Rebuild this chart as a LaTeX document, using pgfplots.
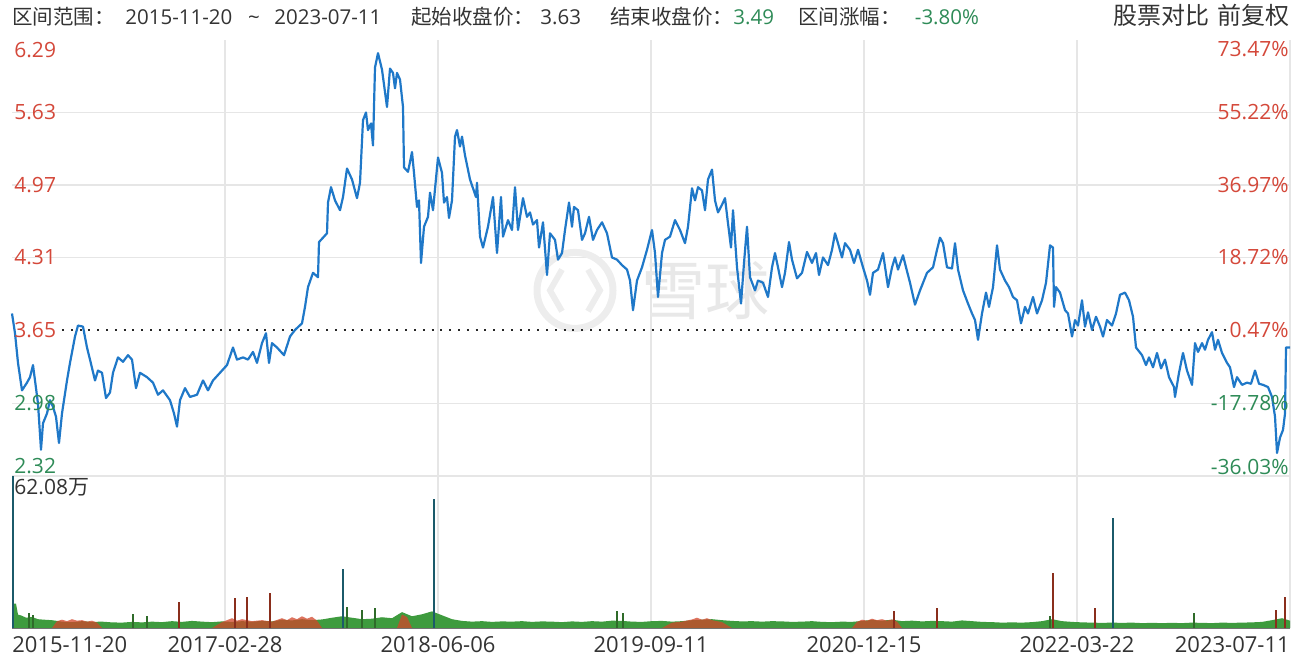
\documentclass[border=0pt]{standalone}
\usepackage{pgfplots}
\pgfplotsset{compat=1.18}
\usepackage{fontspec}
\setmainfont{Open Sans}
\newfontfamily\cjk{Noto Sans CJK SC}

\definecolor{upred}{HTML}{D4483A}
\definecolor{dngreen}{HTML}{2E8B57}
\definecolor{txtgray}{HTML}{333333}
\definecolor{priceblue}{HTML}{1F78C8}
\definecolor{volgreen}{HTML}{3E9B3E}
\definecolor{volred}{HTML}{D2452A}
\definecolor{spteal}{HTML}{1B5A6A}
\definecolor{spred}{HTML}{8A2E1C}
\definecolor{spgreen}{HTML}{2F6B2A}
\definecolor{gridc}{HTML}{E6E6E6}

\newcommand{\fs}[1]{\fontsize{#1}{#1}\selectfont}

\begin{document}
\begin{tikzpicture}
\useasboundingbox (0,0) rectangle (652pt,333pt);

% price panel
\begin{axis}[at={(6pt,95pt)}, anchor=south west, scale only axis,
  width=639pt, height=218pt,
  xmin=0, xmax=1278, ymin=2.32, ymax=6.29,
  xtick={213,426,639,852,1065}, ytick={2.98,4.31,4.97,5.63},
  xticklabels={}, yticklabels={}, major tick length=0pt,
  grid=major, grid style={gridc, line width=0.6pt},
  axis line style={draw=none}, clip=false]

% watermark
\draw[gray!14, line width=3.5pt] (axis cs:563,4.01) circle[radius=19pt];
\draw[gray!14, line width=3pt] (axis cs:550,4.20) -- (axis cs:538,4.01) -- (axis cs:550,3.82);
\draw[gray!14, line width=3pt] (axis cs:576,4.20) -- (axis cs:588,4.01) -- (axis cs:576,3.82);
\node[text=gray!18, font=\cjk\fs{32pt}] at (axis cs:693,4.01) {雪球};

\draw[gridc, line width=0.6pt] (axis cs:1278,2.32) -- (axis cs:1278,6.29);
\draw[black!85, line width=1.1pt, dash pattern=on 1pt off 3.4pt] (axis cs:50,3.65) -- (axis cs:1215,3.65);

\addplot[priceblue, line width=1.1pt, line join=round, mark=none] coordinates {
(0,3.80) (3,3.62) (6,3.35) (10,3.10) (15,3.17) (18,3.22) (21,3.33) (23,3.19)
(26,2.98) (29,2.56) (31,2.80) (35,2.89) (38,3.01) (41,2.95) (44,2.86) (47,2.62)
(50,2.89) (55,3.19) (58,3.35) (63,3.59) (66,3.69) (71,3.68) (75,3.49) (78,3.38)
(83,3.19) (86,3.28) (90,3.26) (94,3.03) (98,3.08) (101,3.26) (106,3.40) (111,3.36)
(116,3.42) (120,3.38) (124,3.12) (128,3.26) (135,3.22) (141,3.17) (146,3.06) (151,3.10)
(158,3.01) (162,2.89) (165,2.77) (168,3.01) (173,3.12) (178,3.04) (185,3.06) (191,3.19)
(196,3.10) (201,3.19) (208,3.26) (215,3.33) (221,3.49) (225,3.38) (231,3.40) (236,3.38)
(241,3.45) (245,3.35) (250,3.53) (254,3.62) (257,3.35) (260,3.53) (265,3.49) (272,3.42)
(278,3.59) (283,3.65) (290,3.71) (293,3.86) (296,4.04) (301,4.17) (306,4.13) (307,4.45)
(315,4.53) (316,4.81) (319,4.95) (323,4.83) (328,4.74) (331,4.86) (335,5.12) (340,5.02)
(345,4.85) (348,4.99) (351,5.56) (354,5.63) (356,5.47) (359,5.53) (361,5.33) (363,6.04)
(366,6.17) (370,6.02) (375,5.68) (378,6.03) (381,5.99) (383,5.85) (385,5.99) (388,5.93)
(391,5.68) (392,5.13) (396,5.09) (400,5.27) (402,5.08) (405,4.77) (407,4.83) (409,4.26)
(412,4.59) (416,4.68) (418,4.90) (421,4.74) (426,5.22) (430,5.08) (432,4.81) (435,4.86)
(437,4.67) (440,4.83) (443,5.41) (445,5.47) (448,5.32) (450,5.41) (453,5.24) (458,5.02)
(464,4.86) (465,4.99) (468,4.50) (471,4.40) (476,4.59) (481,4.86) (485,4.35) (489,4.86)
(491,4.50) (496,4.65) (500,4.56) (503,4.95) (506,4.56) (511,4.85) (515,4.68) (518,4.72)
(521,4.61) (525,4.65) (527,4.40) (531,4.63) (535,4.15) (538,4.53) (543,4.47) (546,4.29)
(550,4.35) (553,4.56) (557,4.81) (560,4.59) (562,4.77) (566,4.74) (570,4.47) (573,4.53)
(577,4.68) (581,4.47) (585,4.56) (590,4.63) (595,4.53) (600,4.31) (605,4.29) (610,4.24)
(615,4.20) (618,4.10) (621,3.83) (625,4.10) (630,4.22) (635,4.38) (640,4.56) (643,4.35)
(646,3.95) (650,4.35) (653,4.47) (658,4.50) (663,4.65) (668,4.56) (673,4.44) (676,4.59)
(680,4.94) (683,4.83) (686,4.95) (690,4.92) (693,4.74) (696,5.02) (700,5.11) (703,4.83)
(706,4.72) (710,4.79) (713,4.85) (716,4.62) (719,4.40) (721,4.74) (725,4.22) (729,3.89)
(732,4.26) (735,4.59) (738,4.13) (743,4.01) (746,4.10) (751,4.08) (756,3.95) (760,4.22)
(763,4.35) (766,4.22) (770,4.04) (773,4.17) (777,4.45) (780,4.29) (785,4.12) (790,4.17)
(795,4.36) (800,4.26) (804,4.35) (807,4.15) (811,4.31) (816,4.24) (820,4.38) (823,4.53)
(825,4.47) (830,4.31) (833,4.44) (838,4.38) (842,4.26) (846,4.38) (851,4.22) (855,4.10)
(858,3.97) (861,4.17) (866,4.20) (871,4.35) (876,4.04) (880,4.22) (883,4.31) (886,4.20)
(891,4.33) (894,4.22) (898,4.08) (903,3.88) (908,4.01) (915,4.17) (921,4.22) (925,4.38)
(928,4.49) (931,4.44) (935,4.22) (940,4.21) (943,4.44) (946,4.20) (951,4.01) (956,3.89)
(960,3.80) (963,3.74) (966,3.56) (970,3.80) (974,3.99) (977,3.86) (981,4.04) (985,4.42)
(988,4.20) (993,4.10) (997,4.04) (1001,3.95) (1005,3.92) (1009,3.71) (1013,3.86) (1016,3.80)
(1021,3.95) (1025,3.80) (1030,3.92) (1034,4.08) (1038,4.42) (1041,4.40) (1042,3.86) (1044,4.04)
(1048,3.99) (1053,3.83) (1056,3.80) (1060,3.59) (1063,3.74) (1066,3.69) (1070,3.92) (1073,3.68)
(1076,3.81) (1080,3.65) (1084,3.77) (1088,3.68) (1091,3.59) (1095,3.74) (1100,3.69) (1104,3.80)
(1108,3.97) (1113,3.99) (1117,3.92) (1121,3.77) (1124,3.49) (1130,3.42) (1134,3.33) (1137,3.40)
(1141,3.31) (1145,3.44) (1149,3.30) (1153,3.38) (1157,3.22) (1162,3.13) (1163,3.04) (1167,3.26)
(1171,3.44) (1175,3.28) (1180,3.15) (1183,3.53) (1186,3.45) (1190,3.53) (1193,3.47) (1196,3.56)
(1200,3.63) (1203,3.47) (1206,3.56) (1210,3.44) (1215,3.35) (1218,3.31) (1222,3.13) (1225,3.22)
(1230,3.15) (1235,3.17) (1239,3.16) (1243,3.28) (1247,3.16) (1251,3.15) (1256,3.13) (1260,3.04)
(1263,2.86) (1265,2.53) (1268,2.67) (1271,2.74) (1273,2.89) (1274,3.49) (1278,3.49)
};

% price labels, left and right
\node[anchor=north west, inner sep=1pt, text=upred, font=\fs{10.5pt}] at (axis cs:0,6.29) {6.29};
\node[anchor=west, inner sep=1pt, text=upred, font=\fs{10.5pt}] at (axis cs:0,5.63) {5.63};
\node[anchor=west, inner sep=1pt, text=upred, font=\fs{10.5pt}] at (axis cs:0,4.97) {4.97};
\node[anchor=west, inner sep=1pt, text=upred, font=\fs{10.5pt}] at (axis cs:0,4.31) {4.31};
\node[anchor=west, inner sep=1pt, text=upred, font=\fs{10.5pt}] at (axis cs:0,3.65) {3.65};
\node[anchor=west, inner sep=1pt, text=dngreen, font=\fs{10.5pt}] at (axis cs:0,2.98) {2.98};
\node[anchor=south west, inner sep=1pt, text=dngreen, font=\fs{10.5pt}] at (axis cs:0,2.32) {2.32};
\node[anchor=north east, inner sep=0.5pt, text=upred, font=\fs{10.5pt}] at (axis cs:1278,6.29) {73.47\%};
\node[anchor=east, inner sep=0.5pt, text=upred, font=\fs{10.5pt}] at (axis cs:1278,5.63) {55.22\%};
\node[anchor=east, inner sep=0.5pt, text=upred, font=\fs{10.5pt}] at (axis cs:1278,4.97) {36.97\%};
\node[anchor=east, inner sep=0.5pt, text=upred, font=\fs{10.5pt}] at (axis cs:1278,4.31) {18.72\%};
\node[anchor=east, inner sep=0.5pt, text=upred, font=\fs{10.5pt}] at (axis cs:1278,3.65) {0.47\%};
\node[anchor=east, inner sep=0.5pt, text=dngreen, font=\fs{10.5pt}] at (axis cs:1278,2.98) {-17.78\%};
\node[anchor=south east, inner sep=0.5pt, text=dngreen, font=\fs{10.5pt}] at (axis cs:1278,2.32) {-36.03\%};
\end{axis}

% volume panel
\begin{axis}[at={(6pt,19pt)}, anchor=south west, scale only axis,
  width=639pt, height=76pt,
  xmin=0, xmax=1278, ymin=0, ymax=62.08,
  xtick={213,426,639,852,1065}, ytick=\empty,
  xticklabels={}, major tick length=0pt,
  xmajorgrids, grid style={gridc, line width=0.6pt},
  axis line style={draw=none}, clip=false]

\draw[gridc, line width=0.6pt] (axis cs:0,62.08) -- (axis cs:1278,62.08);
\draw[gridc, line width=0.6pt] (axis cs:1278,0) -- (axis cs:1278,62.08);

\addplot[draw=none, fill=volgreen] coordinates {
(0,10) (4,10) (6,5.5) (10,5) (14,4.2) (20,4.5) (26,3.6) (32,3.4) (40,3.2) (50,2.6)
(60,2.4) (70,2.8) (80,2.5) (90,2.6) (100,2.3) (110,2.2) (120,2.5) (130,2.3) (140,2.6) (150,2.4)
(160,2.8) (170,2.5) (180,2.9) (190,2.6) (200,2.4) (210,2.7) (220,2.5) (230,2.8) (240,2.6) (250,2.9)
(260,2.7) (270,3.4) (280,3.1) (290,3.6) (300,3.2) (310,3.5) (320,4.2) (330,4.8) (340,4.2) (350,3.6)
(360,3.8) (370,4.4) (380,4.0) (390,6.5) (400,4.8) (410,5.6) (420,6.8) (430,5.2) (440,3.6) (450,2.9)
(460,2.6) (470,2.8) (480,2.5) (490,2.7) (500,2.6) (510,2.8) (520,2.5) (530,2.7) (540,2.6) (550,2.4)
(560,2.7) (570,2.5) (580,2.8) (590,2.6) (600,3.0) (610,2.9) (620,2.6) (630,2.5) (640,2.8) (650,2.9)
(660,2.6) (670,2.8) (680,3.2) (690,3.4) (700,3.6) (710,3.2) (720,2.9) (730,2.7) (740,2.8) (750,2.6)
(760,2.8) (770,2.7) (780,2.5) (790,2.6) (800,2.8) (810,2.5) (820,2.4) (830,2.6) (840,2.5) (850,2.9)
(860,3.3) (870,3.0) (880,3.4) (890,2.8) (900,3.0) (910,2.7) (920,2.9) (930,2.8) (940,2.6) (950,3.1)
(960,2.8) (970,2.5) (980,2.4) (990,2.2) (1000,2.3) (1010,2.2) (1020,2.4) (1030,2.8) (1040,3.6) (1050,2.8)
(1060,2.5) (1070,2.3) (1080,2.2) (1090,2.1) (1100,2.2) (1110,2.1) (1120,2.2) (1130,2.0) (1140,2.1) (1150,2.0)
(1160,2.1) (1170,2.0) (1180,2.2) (1190,2.1) (1200,2.0) (1210,2.2) (1220,2.1) (1230,2.2) (1240,2.3) (1250,2.5)
(1260,3.2) (1270,4.0) (1278,3.0)
} \closedcycle;

\addplot[draw=none, fill=volred, fill opacity=0.75] coordinates {
(0,0) (40,0) (45,2.8) (50,3.4) (55,2.8) (60,3.6) (65,3.0) (70,3.2) (75,2.6) (80,3.0)
(85,2.2) (90,0) (200,0) (210,2.4) (215,3.2) (220,4.0) (225,3.0) (230,3.6) (240,2.8) (250,3.2)
(260,2.6) (270,4.0) (275,3.2) (280,4.4) (285,3.6) (290,4.8) (295,3.8) (300,4.6) (305,3.0) (310,0)
(385,0) (390,5.5) (395,4.5) (400,0) (650,0) (660,2.2) (670,2.6) (680,3.5) (685,4.2) (690,3.4)
(695,4.0) (700,3.2) (710,2.4) (720,0) (840,0) (845,2.5) (850,3.4) (855,3.0) (860,3.8) (865,3.2)
(870,3.6) (875,3.0) (880,3.5) (885,2.6) (890,0) (1278,0)
} \closedcycle;

\addplot[ycomb, spteal, line width=1pt, mark=none] coordinates {
(0.5,62.08) (331,24.1) (422,52.7) (1101,45.0)
};
\addplot[ycomb, spred, line width=0.9pt, mark=none] coordinates {
(167,10.6) (223,12.2) (235,12.7) (258,14.3) (882,7.0) (925,8.2) (1041,22.5) (1083,8.0) (1264,7.3) (1273,12.7)
};
\addplot[ycomb, spgreen, line width=0.8pt, mark=none] coordinates {
(17,6.0) (21,5.5) (121,5.7) (135,4.9) (335,8.6) (350,7.3) (363,8.0) (605,7.0) (611,6.0) (1038,5.0) (1182,6.0)
};

\draw[black!55, line width=0.5pt] (axis cs:0,0) -- (axis cs:1278,0);

\node[anchor=north west, inner sep=1pt, text=txtgray, font=\fs{10.5pt}] at (axis cs:0,62.08) {62.08{\cjk 万}};

\node[anchor=base west, inner sep=0pt, text=txtgray, font=\fs{11pt}] at ([yshift=-12pt]axis cs:0,0) {2015-11-20};
\node[anchor=base, inner sep=0pt, text=txtgray, font=\fs{11pt}] at ([yshift=-12pt]axis cs:213,0) {2017-02-28};
\node[anchor=base, inner sep=0pt, text=txtgray, font=\fs{11pt}] at ([yshift=-12pt]axis cs:426,0) {2018-06-06};
\node[anchor=base, inner sep=0pt, text=txtgray, font=\fs{11pt}] at ([yshift=-12pt]axis cs:639,0) {2019-09-11};
\node[anchor=base, inner sep=0pt, text=txtgray, font=\fs{11pt}] at ([yshift=-12pt]axis cs:852,0) {2020-12-15};
\node[anchor=base, inner sep=0pt, text=txtgray, font=\fs{11pt}] at ([yshift=-12pt]axis cs:1065,0) {2022-03-22};
\node[anchor=base east, inner sep=0pt, text=txtgray, font=\fs{11pt}] at ([yshift=-12pt]axis cs:1278,0) {2023-07-11};
\end{axis}

% header line
\node[anchor=base west, inner sep=0pt, text=txtgray, font=\fs{10.25pt}] at (6pt,320.5pt) {{\cjk 区间范围：}};
\node[anchor=base west, inner sep=0pt, text=txtgray, font=\fs{10.25pt}] at (62.5pt,320.5pt) {2015-11-20};
\node[anchor=base, inner sep=0pt, text=txtgray, font=\fs{10.25pt}] at (127pt,320.5pt) {\textasciitilde};
\node[anchor=base west, inner sep=0pt, text=txtgray, font=\fs{10.25pt}] at (137pt,320.5pt) {2023-07-11};
\node[anchor=base west, inner sep=0pt, text=txtgray, font=\fs{10.25pt}] at (205.5pt,320.5pt) {{\cjk 起始收盘价：}\hspace{3pt}3.63};
\node[anchor=base west, inner sep=0pt, text=txtgray, font=\fs{10.25pt}] at (305pt,320.5pt) {{\cjk 结束收盘价：}{\color{dngreen}3.49}};
\node[anchor=base west, inner sep=0pt, text=txtgray, font=\fs{10.25pt}] at (399pt,320.5pt) {{\cjk 区间涨幅：}\hspace{7pt}{\color{dngreen}-3.80\%}};
\node[anchor=base east, inner sep=0pt, text=txtgray, font=\fs{12pt}] at (645pt,320.5pt) {{\cjk 股票对比\hspace{0.35em}前复权}};
\end{tikzpicture}
\end{document}
